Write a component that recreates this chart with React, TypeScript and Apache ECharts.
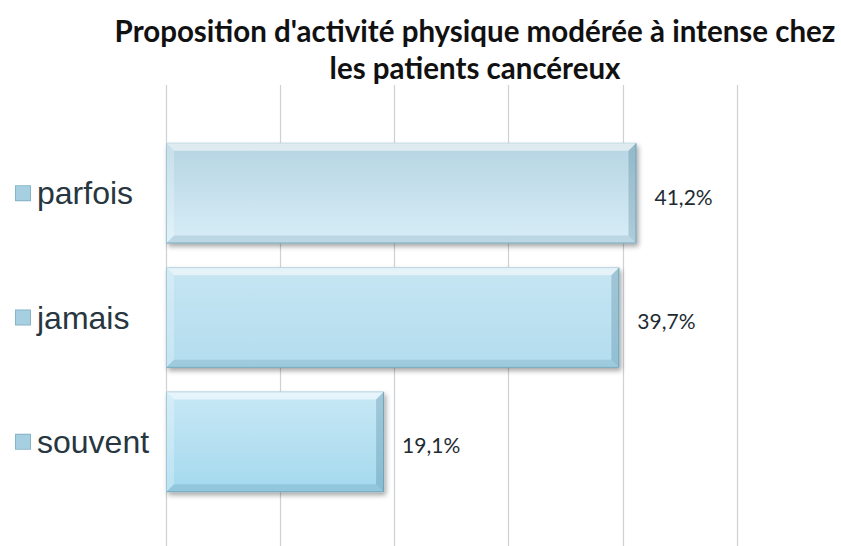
import React, { useEffect, useRef } from "react";
import * as echarts from "echarts";

const titleLines = [
  "Proposition d'activité physique modérée à intense chez",
  "les patients cancéreux",
];
const categories = ["parfois", "jamais", "souvent"];
const values = [41.2, 39.7, 19.1];
const axisMin = 0;
const axisMax = 50;
const axisStep = 10;

const barGradients = [
  ["#b5d4e2", "#d8eef8"],
  ["#c6e5f2", "#b3ddef"],
  ["#c8e8f5", "#a4d9ee"],
];

export default function App() {
  const ref = useRef<HTMLDivElement>(null);

  useEffect(() => {
    if (!ref.current) return;
    const chart = echarts.init(ref.current, undefined, { renderer: "svg" });
    const bandRatio = 0.81;

    const option: any = {
      animation: false,
      backgroundColor: "#ffffff",
      title: {
        text: titleLines.join("\n"),
        left: 470,
        top: 7,
        textAlign: "center",
        textStyle: {
          fontFamily: "Lato",
          fontWeight: "bold",
          fontSize: 29.5,
          lineHeight: 37,
          color: "#111111",
        },
      },
      grid: [
        { left: 166, right: 104, top: 85, bottom: 0 },
        { left: 166, right: 104, top: 131, bottom: 42 },
      ],
      xAxis: [
        {
          gridIndex: 0,
          type: "value",
          min: axisMin,
          max: axisMax,
          interval: axisStep,
          axisLabel: { show: false },
          axisLine: { show: false },
          axisTick: { show: false },
          splitLine: {
            show: true,
            lineStyle: { color: "#cdd1d5", width: 1.2 },
          },
        },
        {
          gridIndex: 1,
          type: "value",
          min: axisMin,
          max: axisMax,
          interval: axisStep,
          show: false,
          splitLine: { show: false },
        },
      ],
      yAxis: [
        { gridIndex: 0, type: "value", show: false, min: 0, max: 1 },
        {
          gridIndex: 1,
          type: "category",
          data: categories,
          inverse: true,
          axisLine: { show: false },
          axisTick: { show: false },
          splitLine: { show: false },
          axisLabel: {
            align: "left",
            margin: 150,
            formatter: (v: string) => `{i|}{t|${v}}`,
            rich: {
              i: {
                width: 14,
                height: 14,
                backgroundColor: "#a6d0e2",
                borderColor: "#86b4c8",
                borderWidth: 1,
                verticalAlign: "middle",
              },
              t: {
                fontFamily: "Liberation Sans",
                fontSize: 32,
                color: "#27363f",
                padding: [0, 0, 0, 7],
                lineHeight: 40,
                verticalAlign: "middle",
              },
            },
          },
        },
      ],
      series: [
        {
          type: "bar",
          xAxisIndex: 1,
          yAxisIndex: 1,
          barWidth: `${bandRatio * 100}%`,
          z: 2,
          data: values.map((v, i) => ({
            value: v,
            itemStyle: {
              color: new echarts.graphic.LinearGradient(0, 0, 0, 1, [
                { offset: 0, color: barGradients[i][0] },
                { offset: 1, color: barGradients[i][1] },
              ]),
            },
          })),
          itemStyle: {
            borderColor: "#84b6ca",
            borderWidth: 1,
            shadowColor: "rgba(0,0,0,0.35)",
            shadowBlur: 5,
            shadowOffsetX: 2,
            shadowOffsetY: 3,
          },
          label: {
            show: true,
            position: "right",
            distance: 18,
            offset: [0, 3],
            fontFamily: "Lato",
            fontSize: 21,
            color: "#1e2b31",
            formatter: (p: any) =>
              p.value.toFixed(1).replace(".", ",") + "%",
          },
        },
        {
          type: "custom",
          xAxisIndex: 1,
          yAxisIndex: 1,
          z: 3,
          silent: true,
          data: values.map((v, i) => [v, i]),
          encode: { x: 0, y: 1 },
          renderItem: (params: any, api: any) => {
            const v = api.value(0);
            const c = api.value(1);
            const end = api.coord([v, c]);
            const start = api.coord([0, c]);
            const h = api.size([0, 1])[1] * bandRatio;
            const x0 = start[0];
            const x1 = end[0];
            const y0 = end[1] - h / 2;
            const y1 = end[1] + h / 2;
            const b = 8;
            return {
              type: "group",
              children: [
                {
                  type: "polygon",
                  shape: {
                    points: [
                      [x0, y0],
                      [x1, y0],
                      [x1 - b, y0 + b],
                      [x0 + b, y0 + b],
                    ],
                  },
                  style: { fill: "rgba(255,255,255,0.55)" },
                },
                {
                  type: "polygon",
                  shape: {
                    points: [
                      [x0, y0],
                      [x0 + b, y0 + b],
                      [x0 + b, y1 - b],
                      [x0, y1],
                    ],
                  },
                  style: { fill: "rgba(255,255,255,0.25)" },
                },
                {
                  type: "polygon",
                  shape: {
                    points: [
                      [x1, y0],
                      [x1, y1],
                      [x1 - b, y1 - b],
                      [x1 - b, y0 + b],
                    ],
                  },
                  style: { fill: "rgba(40,95,120,0.24)" },
                },
                {
                  type: "polygon",
                  shape: {
                    points: [
                      [x0, y1],
                      [x1, y1],
                      [x1 - b, y1 - b],
                      [x0 + b, y1 - b],
                    ],
                  },
                  style: { fill: "rgba(40,95,120,0.15)" },
                },
              ],
            };
          },
        },
      ],
    };

    chart.setOption(option);
    return () => chart.dispose();
  }, []);

  return (
    <div
      ref={ref}
      style={{ position: "fixed", left: 0, top: 0, width: 841, height: 546 }}
    />
  );
}
